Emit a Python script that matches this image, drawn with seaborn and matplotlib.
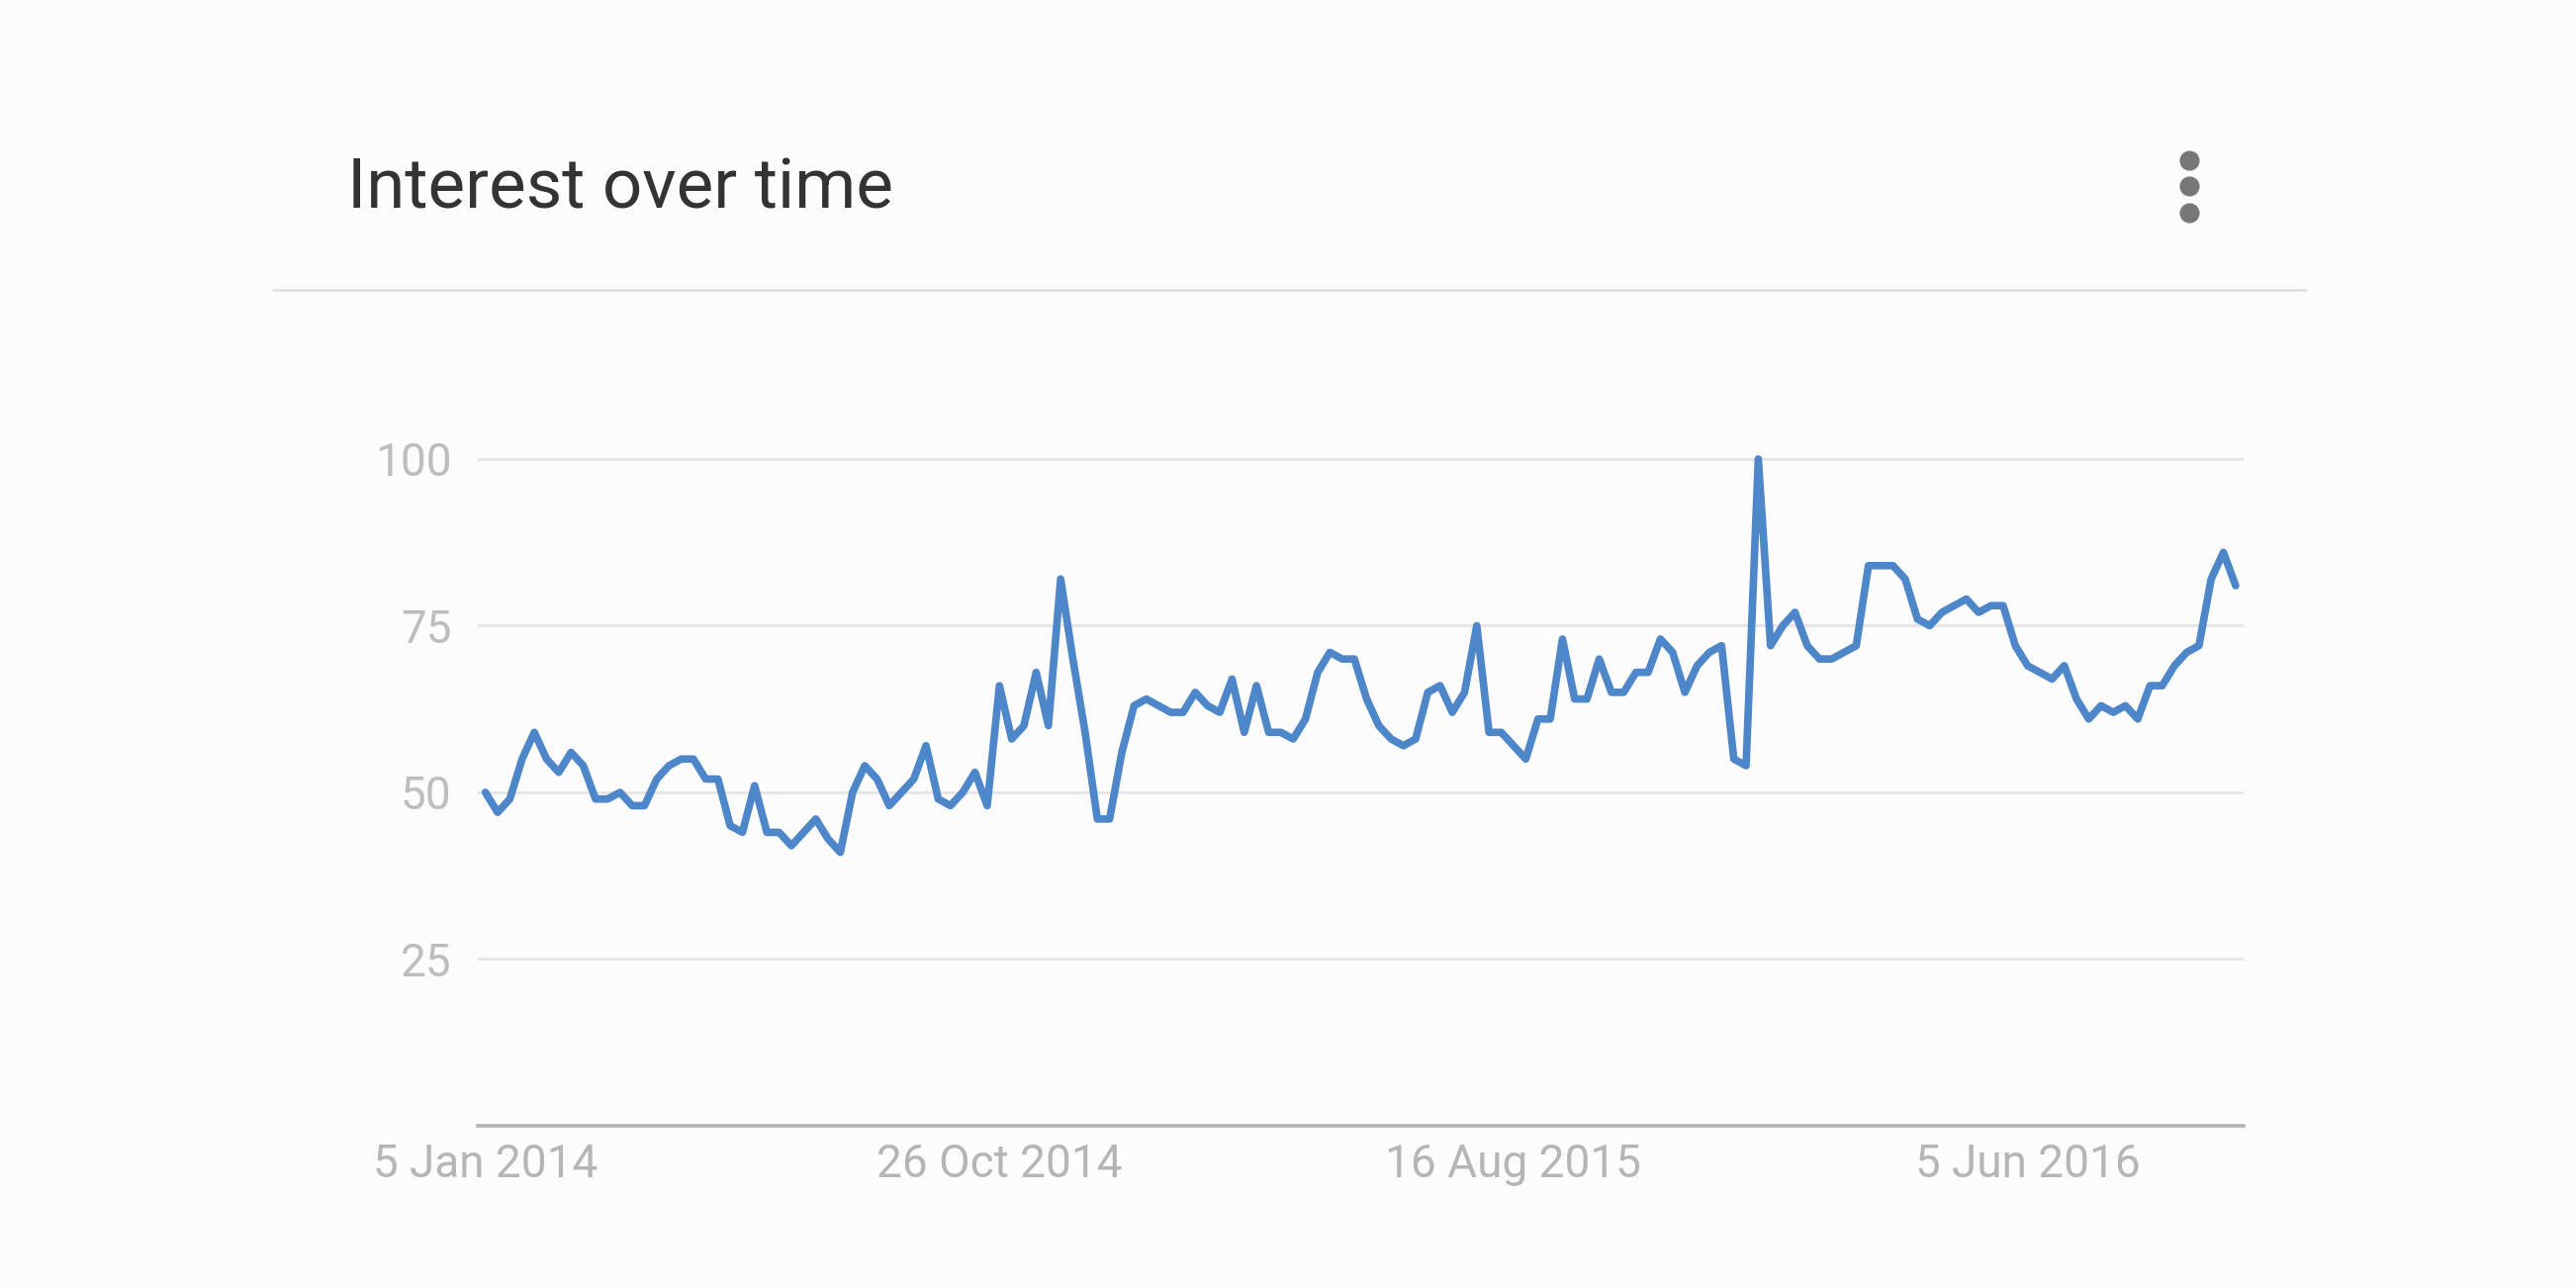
import pandas as pd
import matplotlib
matplotlib.use("Agg")
import matplotlib.pyplot as plt
from matplotlib.lines import Line2D
import seaborn as sns

# weekly interest values, 5 Jan 2014 onward
interest = [
    50, 47, 49, 55, 59, 55, 53, 56, 54, 49, 49, 50, 48, 48, 52, 54, 55, 55, 52, 52, 45, 44, 51, 44, 44,
    42, 44, 46, 43, 41, 50, 54, 52, 48, 50, 52, 57, 49, 48, 50, 53, 48, 66, 58, 60, 68, 60,
    82, 70, 59, 46, 46, 56, 63, 64, 63, 62, 62, 65, 63, 62, 67, 59, 66, 59, 59, 58, 61, 68, 71, 70, 70, 64,
    60, 58, 57, 58, 65, 66, 62, 65, 75, 59, 59, 57, 55, 61, 61, 73, 64, 64, 70, 65, 65, 68, 68,
    73, 71, 65, 69, 71, 72, 55, 54, 100, 72, 75, 77, 72, 70, 70, 71, 72, 84, 84, 84, 82, 76, 75, 77, 78, 79,
    77, 78, 78, 72, 69, 68, 67, 69, 64, 61, 63, 62, 63, 61, 66, 66, 69, 71, 72, 82, 86, 81,
]
start_date = "2014-01-05"
tick_dates = ["2014-01-05", "2014-10-26", "2015-08-16", "2016-06-05"]
tick_labels = ["5 Jan 2014", "26 Oct 2014", "16 Aug 2015", "5 Jun 2016"]
y_ticks = [25, 50, 75, 100]

df = pd.DataFrame({
    "week": pd.date_range(start_date, periods=len(interest), freq="W-SUN"),
    "interest": interest,
})

sns.set_theme(style="white")
plt.rcParams["font.family"] = ["Roboto", "DejaVu Sans"]

bg = "#fcfcfc"
fig = plt.figure(figsize=(26.04, 13.02), dpi=100, facecolor=bg)
ax = fig.add_axes([0.1855, 0.126, 0.6855, 0.5694], facecolor=bg)

sns.lineplot(data=df, x="week", y="interest", ax=ax, color="#4d86c9", linewidth=5.5)

ax.set_ylim(0, 110)
ax.set_xlim(df["week"].iloc[0] - pd.Timedelta(days=4.3),
            df["week"].iloc[-1] + pd.Timedelta(days=4.6))
ax.set_yticks(y_ticks)
ax.set_xticks(pd.to_datetime(tick_dates))
ax.set_xticklabels(tick_labels)
ax.set_xlabel("")
ax.set_ylabel("")

ax.grid(axis="y", color="#e6e6e6", linewidth=2.2)
ax.grid(axis="x", visible=False)
for side in ["top", "left", "right"]:
    ax.spines[side].set_visible(False)
ax.spines["bottom"].set_color("#b3b3b3")
ax.spines["bottom"].set_linewidth(2.6)

ax.tick_params(axis="y", length=0, pad=19, labelsize=33, labelcolor="#bdbdbd")
ax.tick_params(axis="x", length=0, pad=12, labelsize=33, labelcolor="#b5b5b5")

# card header
fig.text(0.1348, 0.8387, "Interest over time", fontsize=51, color="#333333",
         va="baseline", ha="left")
fig.add_artist(Line2D([0.106, 0.895], [0.775, 0.775], transform=fig.transFigure,
                      color="#e2e2e2", linewidth=2.2))
fig.add_artist(Line2D([0.850] * 3, [0.8756, 0.8556, 0.8349], transform=fig.transFigure,
                      marker="o", linestyle="none", markersize=13.5,
                      color="#777777"))

fig.savefig("out.png", dpi=100, facecolor=bg)
